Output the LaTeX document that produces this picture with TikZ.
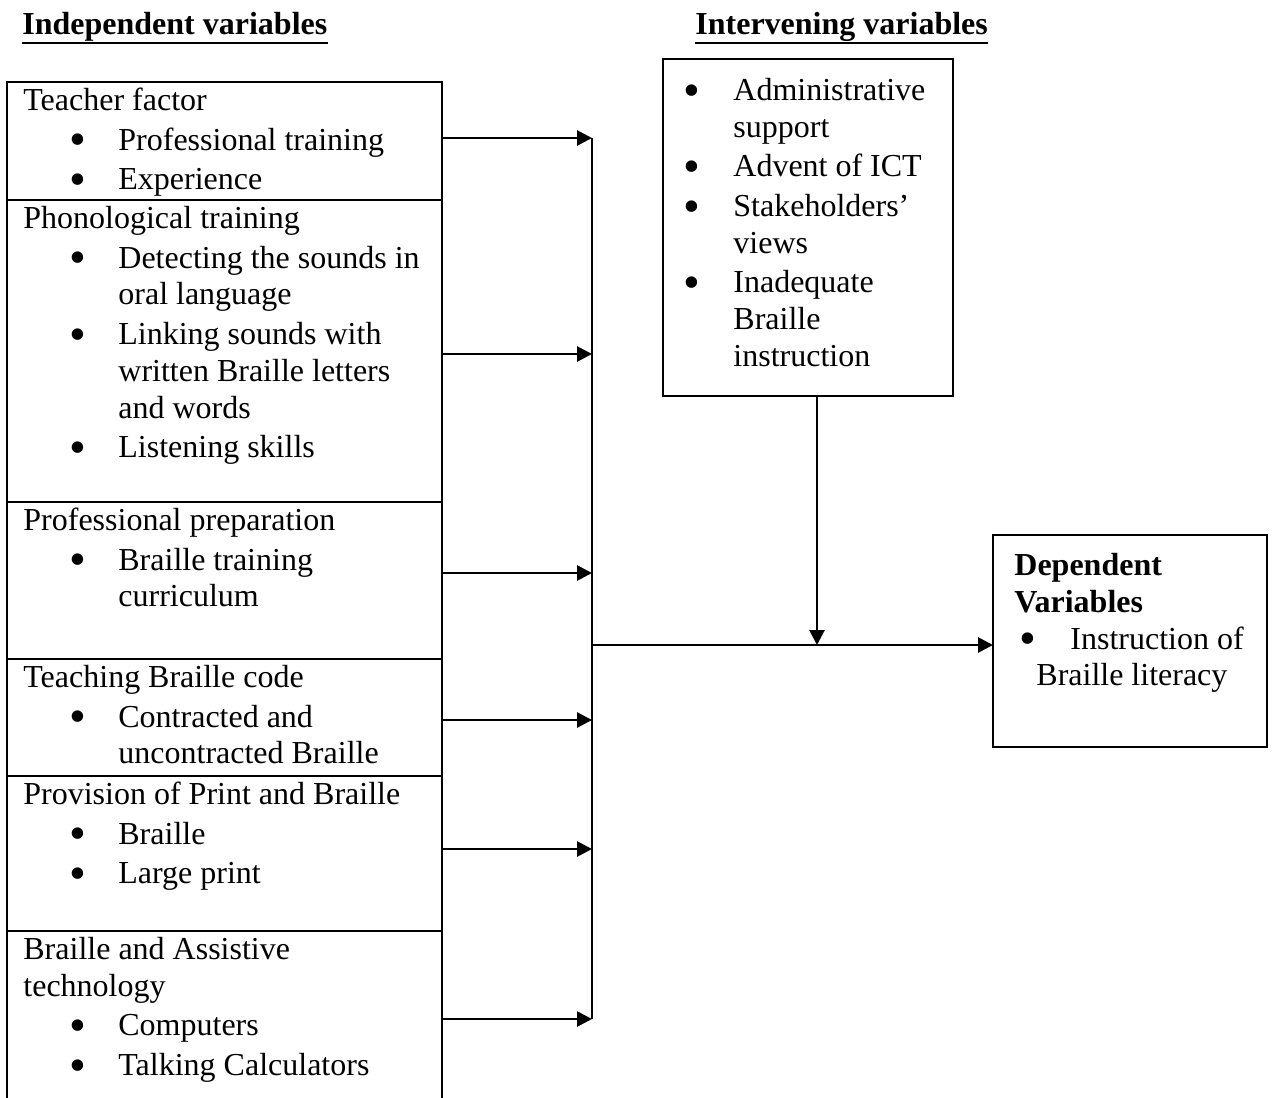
\documentclass[tikz,border=0pt]{standalone}
\usepackage{fontspec}
\setmainfont{Liberation Serif}
\usetikzlibrary{arrows.meta}
\newcommand\bul{\raisebox{-2.9pt}[0pt][0pt]{\scalebox{1.5}{\textbullet}}}
\newcommand\bit[1]{\hspace*{22.8pt}\makebox[24.7pt][l]{\bul}#1}
\newcommand\cnt[1]{\hspace*{47.5pt}#1}
\begin{document}
\begin{tikzpicture}[x=0.5pt,y=-0.5pt,
  box/.style={draw, line width=1pt},
  txt/.style={anchor=north west, inner sep=0pt, align=left, font=\fontsize{16pt}{18.4pt}\selectfont},
  arr/.style={line width=1.4pt, -{Triangle[length=7.5pt,width=7.5pt]}},
  ttl/.style={anchor=base west, inner sep=0pt, font=\fontsize{16pt}{18.4pt}\selectfont\bfseries}]
\useasboundingbox (0,0) rectangle (1273,1097);

% titles
\node[ttl] (t1) at (22,35) {Independent variables\ };
\node[ttl] (t2) at (695,35) {Intervening variables};
\draw[line width=1.2pt] ([yshift=-3.9pt]t1.base west) -- ([yshift=-3.9pt]t1.base east);
\draw[line width=1.2pt] ([yshift=-3.9pt]t2.base west) -- ([yshift=-3.9pt]t2.base east);

% left box
\draw[box] (7,1100) -- (7,82) -- (442,82) -- (442,1100);
\draw[box] (7,200) -- (442,200);
\draw[box] (7,502) -- (442,502);
\draw[box] (7,659) -- (442,659);
\draw[box] (7,776) -- (442,776);
\draw[box] (7,931) -- (442,931);

\node[txt] (s1) at (23,84.24) {\strut Teacher factor\\[1.4pt]\bit{Professional training}\\[1.4pt]\bit{Experience}};
\node[txt] (s2) at (23,202.24) {\strut Phonological training\\[1.4pt]\bit{Detecting the sounds in}\\\cnt{oral language}\\[1.4pt]\bit{Linking sounds with}\\\cnt{written Braille letters}\\\cnt{and words}\\[1.4pt]\bit{Listening skills}};
\node[txt] (s3) at (23,504.24) {\strut Professional preparation\\[1.4pt]\bit{Braille training}\\\cnt{curriculum}};
\node[txt] (s4) at (23,661.24) {\strut Teaching Braille code\\[1.4pt]\bit{Contracted and}\\\cnt{uncontracted Braille}};
\node[txt] (s5) at (23,778.24) {\strut Provision of Print and Braille\\[1.4pt]\bit{Braille}\\[1.4pt]\bit{Large print}};
\node[txt] (s6) at (23,933.24) {\strut Braille and Assistive\\technology\\[1.4pt]\bit{Computers}\\[1.4pt]\bit{Talking Calculators}};

% intervening box
\draw[box] (663,59) rectangle (953,396);
\node[txt] (iv) at (682.6,74.24) {\strut\makebox[25.2pt][l]{\bul}Administrative\\\hspace*{25.2pt}support\\[1.4pt]\makebox[25.2pt][l]{\bul}Advent of ICT\\[1.4pt]\makebox[25.2pt][l]{\bul}Stakeholders’\\\hspace*{25.2pt}views\\[1.4pt]\makebox[25.2pt][l]{\bul}Inadequate\\\hspace*{25.2pt}Braille\\\hspace*{25.2pt}instruction};

% dependent box
\draw[box] (993,535) rectangle (1267,747);
\node[txt] (dv) at (1014,549.24) {\strut\textbf{Dependent}\\\textbf{Variables}\\\hspace*{2.3pt}\makebox[25.7pt][l]{\bul}Instruction of\\\hspace*{11pt}Braille literacy};

% connector coordinates
\coordinate (o1) at (442,138);  \coordinate (c1) at (592,138);
\coordinate (o2) at (442,354);  \coordinate (c2) at (592,354);
\coordinate (o3) at (442,573);  \coordinate (c3) at (592,573);
\coordinate (o4) at (442,720);  \coordinate (c4) at (592,720);
\coordinate (o5) at (442,849);  \coordinate (c5) at (592,849);
\coordinate (o6) at (442,1019); \coordinate (c6) at (592,1019);
\coordinate (cm) at (592,645);
\coordinate (dvin) at (993,645);
\coordinate (ivout) at (817,396);
\coordinate (join) at (817,645);

\draw[line width=1pt] (c1) -- (c6);
\foreach \i in {1,...,6}{\draw[arr] (o\i) -- (c\i);}
\draw[arr] (cm) -- (dvin);
\draw[arr] (ivout) -- (join);
\end{tikzpicture}
\end{document}
